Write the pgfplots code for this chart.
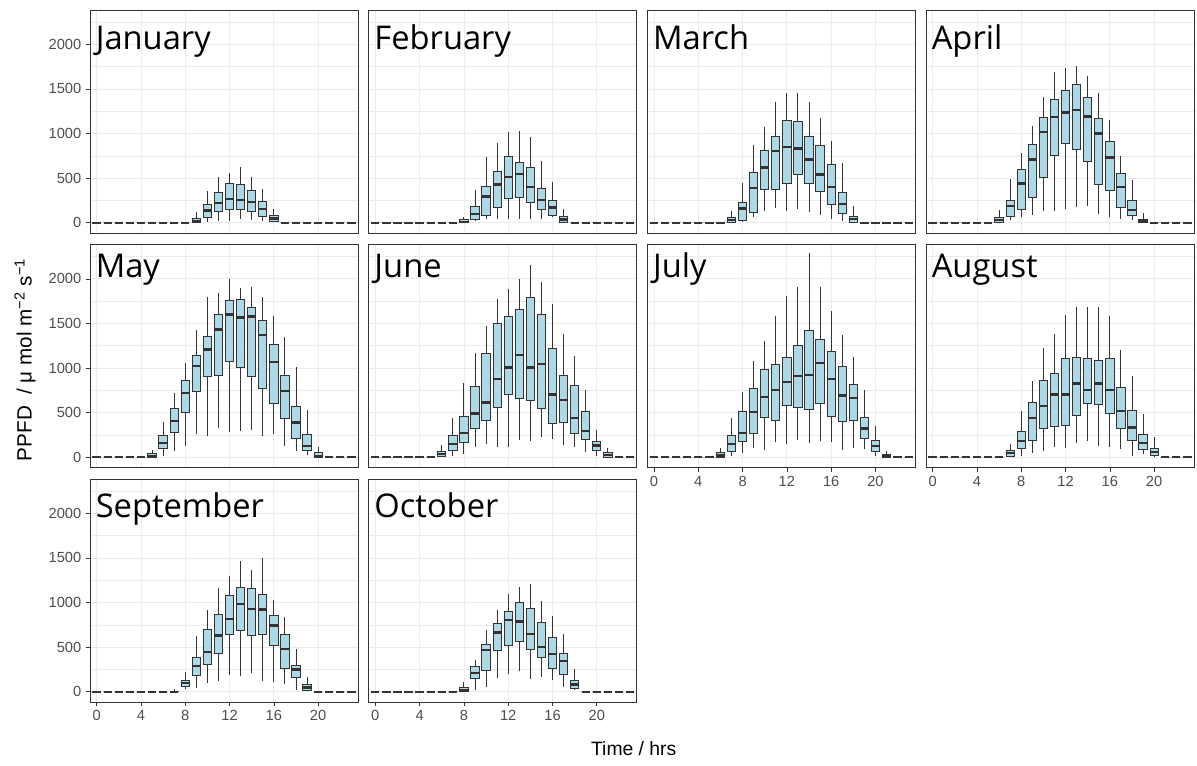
\documentclass[border=0pt]{standalone}
\usepackage{pgfplots}
\pgfplotsset{compat=1.18}
\usepackage{pgfplotstable}
\usepgfplotslibrary{statistics}
\usepackage{fontspec}
\setmainfont{Liberation Sans}
\newfontfamily\titlefont{Open Sans}

\definecolor{grey20}{HTML}{333333}
\definecolor{grey30}{HTML}{4D4D4D}
\definecolor{grey92}{HTML}{EBEBEB}
\definecolor{boxfill}{HTML}{ADD8E6}

% Hourly PPFD summaries: hour, lower whisker, lower quartile, median, upper quartile, upper whisker
\pgfplotstableread{
h lw q1 med q3 uw
0 0 0 0 0 0
1 0 0 0 0 0
2 0 0 0 0 0
3 0 0 0 0 0
4 0 0 0 0 0
5 0 0 0 0 0
6 0 0 0 0 0
7 0 0 0 0 0
8 0 0 0 0 0
9 0 0 22 49 116
10 11 60 135 202 359
11 22 131 220 336 508
12 22 150 265 445 557
13 37 150 254 434 620
14 30 123 235 359 516
15 22 75 157 235 374
16 7 15 49 78 150
17 0 0 0 0 0
18 0 0 0 0 0
19 0 0 0 0 0
20 0 0 0 0 0
21 0 0 0 0 0
22 0 0 0 0 0
23 0 0 0 0 0
}\jantab
\pgfplotstableread{
h lw q1 med q3 uw
0 0 0 0 0 0
1 0 0 0 0 0
2 0 0 0 0 0
3 0 0 0 0 0
4 0 0 0 0 0
5 0 0 0 0 0
6 0 0 0 0 0
7 0 0 0 0 0
8 0 0 10 35 67
9 15 37 101 187 363
10 45 86 295 411 733
11 45 172 430 579 890
12 45 273 512 740 1013
13 45 284 546 677 1024
14 37 224 404 617 964
15 45 150 258 381 692
16 64 86 172 250 460
17 0 4 37 67 153
18 0 0 0 0 0
19 0 0 0 0 0
20 0 0 0 0 0
21 0 0 0 0 0
22 0 0 0 0 0
23 0 0 0 0 0
}\febtab
\pgfplotstableread{
h lw q1 med q3 uw
0 0 0 0 0 0
1 0 0 0 0 0
2 0 0 0 0 0
3 0 0 0 0 0
4 0 0 0 0 0
5 0 0 0 0 0
6 0 0 0 0 0
7 0 0 30 56 131
8 15 22 161 228 449
9 64 120 392 568 867
10 135 370 620 811 1073
11 168 370 807 972 1357
12 135 445 849 1148 1450
13 157 542 834 1133 1450
14 120 445 710 972 1357
15 86 355 542 863 1170
16 45 209 404 654 916
17 15 101 209 336 665
18 0 4 41 75 187
19 0 0 0 0 0
20 0 0 0 0 0
21 0 0 0 0 0
22 0 0 0 0 0
23 0 0 0 0 0
}\martab
\pgfplotstableread{
h lw q1 med q3 uw
0 0 0 0 0 0
1 0 0 0 0 0
2 0 0 0 0 0
3 0 0 0 0 0
4 0 0 0 0 0
5 0 0 0 0 0
6 0 4 30 64 142
7 26 75 187 250 486
8 60 150 441 594 778
9 86 284 710 875 1084
10 135 505 1017 1181 1405
11 135 751 1185 1379 1693
12 150 890 1237 1488 1731
13 172 822 1263 1548 1757
14 187 688 1189 1402 1648
15 93 434 1002 1170 1450
16 60 359 733 908 1151
17 45 172 404 557 748
18 26 86 142 247 475
19 0 0 15 41 105
20 0 0 0 0 0
21 0 0 0 0 0
22 0 0 0 0 0
23 0 0 0 0 0
}\aprtab
\pgfplotstableread{
h lw q1 med q3 uw
0 0 0 0 0 0
1 0 0 0 0 0
2 0 0 0 0 0
3 0 0 0 0 0
4 0 0 0 0 0
5 0 0 11 38 83
6 11 101 162 240 391
7 75 282 406 545 725
8 124 507 718 857 1056
9 256 737 1026 1139 1425
10 233 902 1210 1349 1800
11 331 913 1432 1605 1842
12 282 1071 1601 1755 2004
13 297 1004 1568 1767 1898
14 308 902 1579 1684 1910
15 244 767 1368 1534 1800
16 256 601 1071 1267 1586
17 132 432 740 913 1353
18 75 214 391 568 1007
19 30 75 124 252 526
20 0 0 8 56 113
21 0 0 0 0 0
22 0 0 0 0 0
23 0 0 0 0 0
}\maytab
\pgfplotstableread{
h lw q1 med q3 uw
0 0 0 0 0 0
1 0 0 0 0 0
2 0 0 0 0 0
3 0 0 0 0 0
4 0 0 0 0 0
5 0 0 0 0 0
6 0 11 38 68 143
7 11 75 150 240 440
8 34 165 274 459 831
9 113 327 489 793 1173
10 147 410 616 1165 1477
11 113 560 876 1496 1774
12 113 703 1007 1583 1891
13 199 658 1147 1654 2004
14 184 635 1007 1793 2161
15 222 545 1045 1605 1966
16 207 383 703 1222 1722
17 139 395 643 913 1387
18 120 271 440 801 1139
19 64 199 293 519 756
20 19 79 132 173 301
21 0 0 26 56 101
22 0 0 0 0 0
23 0 0 0 0 0
}\juntab
\pgfplotstableread{
h lw q1 med q3 uw
0 0 0 0 0 0
1 0 0 0 0 0
2 0 0 0 0 0
3 0 0 0 0 0
4 0 0 0 0 0
5 0 0 0 0 0
6 0 0 19 49 109
7 15 64 147 240 440
8 49 173 271 511 737
9 109 263 507 771 1079
10 86 447 673 989 1304
11 169 410 752 1041 1586
12 147 579 842 1124 1808
13 199 556 913 1252 1906
14 162 541 925 1425 2293
15 184 605 1060 1323 1906
16 169 459 876 1184 1643
17 86 398 692 1015 1372
18 109 410 665 816 1128
19 90 214 323 444 759
20 19 64 128 188 353
21 0 0 19 34 75
22 0 0 0 0 0
23 0 0 0 0 0
}\jultab
\pgfplotstableread{
h lw q1 med q3 uw
0 0 0 0 0 0
1 0 0 0 0 0
2 0 0 0 0 0
3 0 0 0 0 0
4 0 0 0 0 0
5 0 0 0 0 0
6 0 0 0 0 0
7 0 11 45 79 154
8 19 101 184 286 515
9 49 184 440 609 857
10 75 323 575 857 1222
11 120 346 703 944 1387
12 101 361 703 1113 1598
13 162 466 827 1124 1684
14 184 605 756 1113 1684
15 132 594 827 1086 1684
16 120 496 756 1113 1586
17 90 323 519 782 1203
18 19 184 335 526 910
19 34 90 162 252 489
20 0 15 60 94 226
21 0 0 0 0 0
22 0 0 0 0 0
23 0 0 0 0 0
}\augtab
\pgfplotstableread{
h lw q1 med q3 uw
0 0 0 0 0 0
1 0 0 0 0 0
2 0 0 0 0 0
3 0 0 0 0 0
4 0 0 0 0 0
5 0 0 0 0 0
6 0 0 0 0 0
7 0 0 0 5 30
8 30 56 98 131 225
9 41 188 289 379 630
10 101 311 443 694 912
11 124 424 630 870 1159
12 188 645 814 1077 1294
13 173 683 987 1167 1467
14 210 634 927 1156 1369
15 124 645 923 1088 1501
16 113 514 743 859 1032
17 86 266 480 638 837
18 23 161 248 300 480
19 8 19 49 86 169
20 0 0 0 0 0
21 0 0 0 0 0
22 0 0 0 0 0
23 0 0 0 0 0
}\septab
\pgfplotstableread{
h lw q1 med q3 uw
0 0 0 0 0 0
1 0 0 0 0 0
2 0 0 0 0 0
3 0 0 0 0 0
4 0 0 0 0 0
5 0 0 0 0 0
6 0 0 0 0 0
7 0 0 0 0 0
8 0 0 19 53 113
9 23 150 210 286 361
10 53 237 466 534 695
11 150 466 662 767 917
12 195 523 801 902 1101
13 233 568 789 1000 1177
14 147 470 650 928 1210
15 165 383 504 782 1019
16 135 263 421 609 846
17 53 195 342 425 647
18 19 41 79 128 252
19 0 0 0 0 0
20 0 0 0 0 0
21 0 0 0 0 0
22 0 0 0 0 0
23 0 0 0 0 0
}\octtab

\pgfplotsset{
  hourbox/.style={draw=grey20, fill=boxfill, line width=0.7pt, solid, mark=none,
    boxplot/draw direction=y,
    boxplot/box extend=0.75, boxplot/whisker extend=0,
    boxplot/every median/.style={line width=1.8pt}},
  panel/.style={
    scale only axis, anchor=south west,
    width=201pt, height=167.25pt,
    xmin=-0.6, xmax=23.6, ymin=-115, ymax=2385,
    xtick={0,4,...,20}, ytick={0,500,...,2000},
    minor ytick={250,750,...,2250},
    grid=both,
    major grid style={draw=grey92, line width=0.6pt},
    minor grid style={draw=grey92, line width=0.45pt},
    axis line style={draw=grey20, line width=0.7pt},
    tick align=outside, major tick length=3pt, minor tick length=0pt,
    xtick pos=bottom, ytick pos=left,
    tick label style={font=\fontsize{11}{11}\selectfont, text=grey30},
    xticklabels={}, yticklabels={},
    x tick style={draw=none}, y tick style={draw=none},
  },
  ylabs/.style={yticklabels={0,500,1000,1500,2000}, y tick style={draw=grey20, line width=0.5pt}},
  xlabs/.style={xticklabels={0,4,8,12,16,20}, x tick style={draw=grey20, line width=0.5pt}},
}

% one vertical box per hour, read row by row from a month table
\newcommand\drawboxes[1]{%
  \pgfplotstablegetrowsof{#1}%
  \pgfmathtruncatemacro\lastrow{\pgfplotsretval-1}%
  \pgfplotsforeachungrouped \rowi in {0,...,\lastrow}{%
    \pgfplotstablegetelem{\rowi}{h}\of{#1}\let\bh\pgfplotsretval
    \pgfplotstablegetelem{\rowi}{lw}\of{#1}\let\blw\pgfplotsretval
    \pgfplotstablegetelem{\rowi}{q1}\of{#1}\let\bql\pgfplotsretval
    \pgfplotstablegetelem{\rowi}{med}\of{#1}\let\bmd\pgfplotsretval
    \pgfplotstablegetelem{\rowi}{q3}\of{#1}\let\bqu\pgfplotsretval
    \pgfplotstablegetelem{\rowi}{uw}\of{#1}\let\buw\pgfplotsretval
    \edef\doplot{\noexpand\addplot[hourbox, boxplot prepared={draw position=\bh,
      lower whisker=\blw, lower quartile=\bql, median=\bmd,
      upper quartile=\bqu, upper whisker=\buw}] coordinates {};}%
    \doplot
  }%
}

% #1 x, #2 y, #3 table, #4 month, #5 baseline of month name, #6 extra options
\newcommand\monthpanel[6]{%
  \begin{axis}[panel, at={(#1,#2)}, #6]
    \drawboxes{#3}
    \node[anchor=base west, inner sep=0pt, text=black,
      font={\titlefont\fontsize{24.5}{28}\selectfont}] at (axis cs:-0.1,#5) {#4};
  \end{axis}%
}

\begin{document}
\begin{tikzpicture}
\useasboundingbox (0,0) rectangle (897.75pt,573.75pt);

\monthpanel{67.5pt}{399pt}{\jantab}{January}{1940}{ylabs}
\monthpanel{276.5pt}{399pt}{\febtab}{February}{1940}{}
\monthpanel{485.5pt}{399pt}{\martab}{March}{1940}{}
\monthpanel{694.5pt}{399pt}{\aprtab}{April}{1940}{}

\monthpanel{67.5pt}{223.1pt}{\maytab}{May}{2015}{ylabs}
\monthpanel{276.5pt}{223.1pt}{\juntab}{June}{2015}{}
\monthpanel{485.5pt}{223.1pt}{\jultab}{July}{2015}{xlabs}
\monthpanel{694.5pt}{223.1pt}{\augtab}{August}{2015}{xlabs}

\monthpanel{67.5pt}{47.25pt}{\septab}{September}{1952}{ylabs,xlabs}
\monthpanel{276.5pt}{47.25pt}{\octtab}{October}{1952}{xlabs}

\node[font=\fontsize{14.5}{16}\selectfont] at (475.3pt,12pt) {Time / hrs};
\node[rotate=90, font=\fontsize{15.5}{17}\selectfont] at (18.75pt,303.75pt)
  {PPFD\ \ / μ mol m\textsuperscript{−2} s\textsuperscript{−1}};
\end{tikzpicture}
\end{document}
